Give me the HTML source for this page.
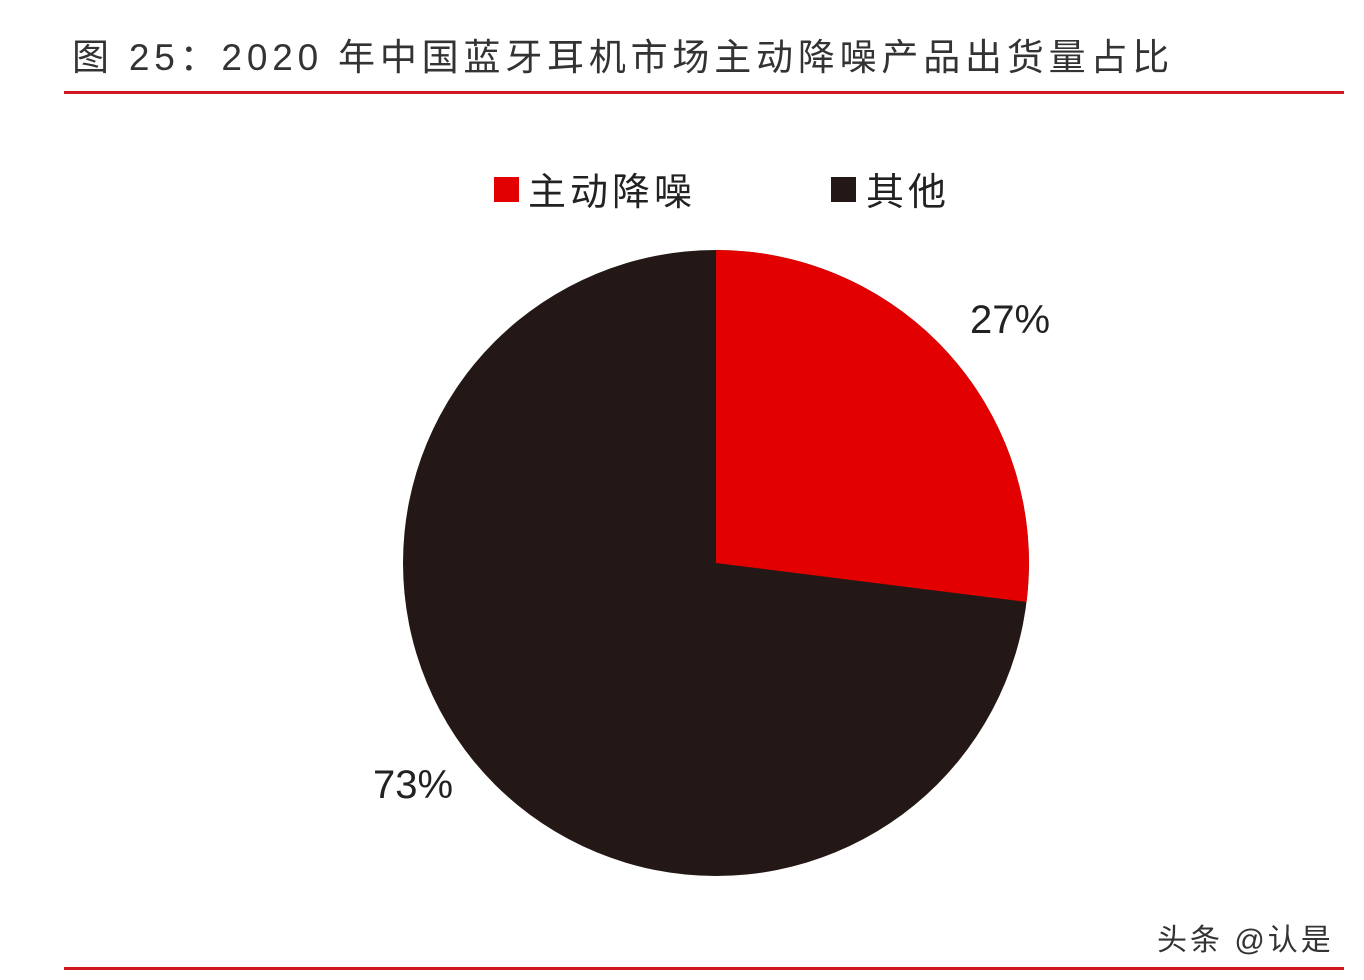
<!DOCTYPE html>
<html><head><meta charset="utf-8"><style>
html,body{margin:0;padding:0;background:#fff;}
body{width:1364px;height:980px;position:relative;overflow:hidden;font-family:"Liberation Sans","Noto Sans CJK SC",sans-serif;}
.t{position:absolute;white-space:nowrap;}
</style></head><body>
<div class="t" style="left:72px;top:27px;font-size:37px;color:#333;letter-spacing:4.8px;">图 25：2020 年中国蓝牙耳机市场主动降噪产品出货量占比</div>
<div style="position:absolute;left:64px;top:91px;width:1280px;height:3px;background:#d0191e;"></div>
<div style="position:absolute;left:494px;top:177px;width:25px;height:25px;background:#e30000;"></div>
<div class="t" style="left:528px;top:161px;font-size:38px;color:#222;letter-spacing:4px;">主动降噪</div>
<div style="position:absolute;left:831px;top:177px;width:25px;height:25px;background:#231815;"></div>
<div class="t" style="left:866px;top:161px;font-size:38px;color:#222;letter-spacing:4px;">其他</div>
<svg style="position:absolute;left:0;top:0" width="1364" height="980">
<circle cx="716" cy="563" r="313" fill="#231815"/>
<path d="M716,563 L716,250 A313,313 0 0 1 1026.5,602 Z" fill="#e30000"/>
</svg>
<div class="t" style="left:970px;top:298px;font-size:40px;color:#222;">27%</div>
<div class="t" style="left:373px;top:763px;font-size:40px;color:#222;">73%</div>
<div class="t" style="left:1157px;top:915px;font-size:30px;color:#333;letter-spacing:3px;">头条 @认是</div>
<div style="position:absolute;left:64px;top:967px;width:1280px;height:3px;background:#d0191e;"></div>
</body></html>
